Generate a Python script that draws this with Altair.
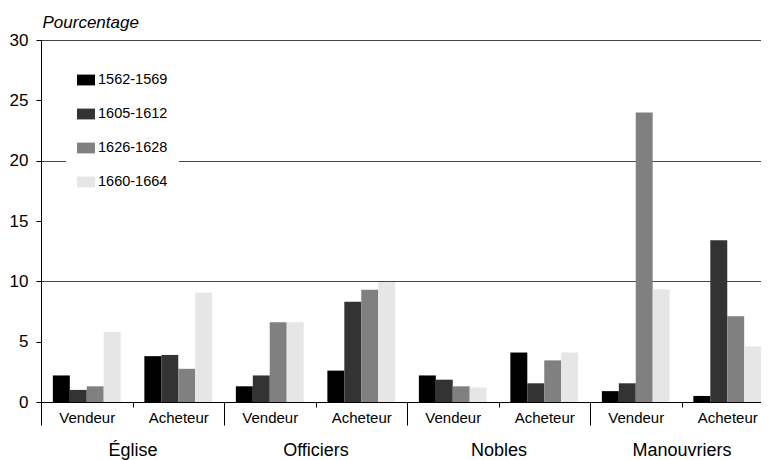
import altair as alt
import pandas as pd

groups = ["Église", "Officiers", "Nobles", "Manouvriers"]
roles = ["Vendeur", "Acheteur"]
periods = ["1562-1569", "1605-1612", "1626-1628", "1660-1664"]
colors = ["#000000", "#333333", "#808080", "#e6e6e6"]

# order: Église V, Église A, Officiers V, Officiers A, Nobles V, Nobles A, Manouvriers V, Manouvriers A
v1562 = [2.2, 3.8, 1.3, 2.6, 2.2, 4.1, 0.9, 0.5]
v1605 = [1.0, 3.9, 2.2, 8.3, 1.85, 1.55, 1.55, 13.4]
v1626 = [1.3, 2.75, 6.6, 9.3, 1.3, 3.45, 24.0, 7.1]
v1660 = [5.8, 9.05, 6.6, 9.95, 1.2, 4.1, 9.35, 4.6]
series = [v1562, v1605, v1626, v1660]

cats = [f"{g}|{r}" for g in groups for r in roles]
rows = []
for p, vals in zip(periods, series):
    for c, v in zip(cats, vals):
        rows.append({"cat": c, "group": c.split("|")[0], "period": p, "value": v})
df = pd.DataFrame(rows)
dfg = pd.DataFrame({"group": groups})

FONT = "Liberation Sans, Arial"
XRANGE = [0, 732]

bars = alt.Chart(df).mark_bar().encode(
    x=alt.X("cat:N", sort=cats,
            scale=alt.Scale(paddingInner=0, paddingOuter=0, range=XRANGE),
            axis=alt.Axis(title=None, orient="bottom", labelAngle=0,
                          labelExpr="split(datum.label, '|')[1]",
                          tickBand="extent", tickSize=5, tickColor="#000",
                          domainColor="#000", labelPadding=3,
                          labelFont=FONT, labelFontSize=15, labelColor="#000",
                          grid=False)),
    xOffset=alt.XOffset("period:N", sort=periods,
                        scale=alt.Scale(paddingInner=0, paddingOuter=0.7)),
    y=alt.Y("value:Q",
            scale=alt.Scale(domain=[0, 30], nice=False),
            axis=alt.Axis(values=[0, 5, 10, 15, 20, 25, 30], title="Pourcentage",
                          titleAngle=0, titleAlign="left", titleBaseline="alphabetic",
                          titleX=1, titleY=-13, titleFont=FONT, titleFontSize=17,
                          titleFontStyle="italic", titleFontWeight="normal", titleColor="#000",
                          labelFont=FONT, labelFontSize=17, labelColor="#000",
                          labelPadding=8, tickSize=5, tickColor="#000",
                          domainColor="#000",
                          gridColor="#444",
                          gridOpacity={"condition": {"test": "datum.value % 10 === 0 && datum.value > 0", "value": 1}, "value": 0})),
    color=alt.Color("period:N", sort=periods,
                    scale=alt.Scale(domain=periods, range=colors),
                    legend=alt.Legend(title=None, orient="none", legendX=25, legendY=20,
                                      fillColor="white", padding=11, rowPadding=18,
                                      symbolType="M-1,-0.6H1V0.6H-1Z", symbolSize=324,
                                      symbolStrokeWidth=0, symbolOpacity=1,
                                      labelFont=FONT, labelFontSize=14.5, labelColor="#000",
                                      labelOffset=3)),
)

group_axis = alt.Chart(dfg).mark_tick(opacity=0).encode(
    x=alt.X("group:N", sort=groups,
            scale=alt.Scale(paddingInner=0, paddingOuter=0, range=XRANGE),
            axis=alt.Axis(title=None, orient="bottom", labelAngle=0,
                          tickBand="extent", tickSize=23, tickColor="#000",
                          domain=False, labelPadding=16,
                          labelFont=FONT, labelFontSize=18, labelColor="#000",
                          grid=False)),
)

chart = alt.layer(bars, group_axis).resolve_scale(x="independent").resolve_axis(x="independent").properties(
    width=720, height=362,
    autosize=alt.AutoSizeParams(type="none"),
    padding={"left": 33, "top": 32, "right": 0, "bottom": 58},
).configure_view(stroke="transparent")

chart.save("out.html", embed_options={"renderer": "svg", "actions": False})
